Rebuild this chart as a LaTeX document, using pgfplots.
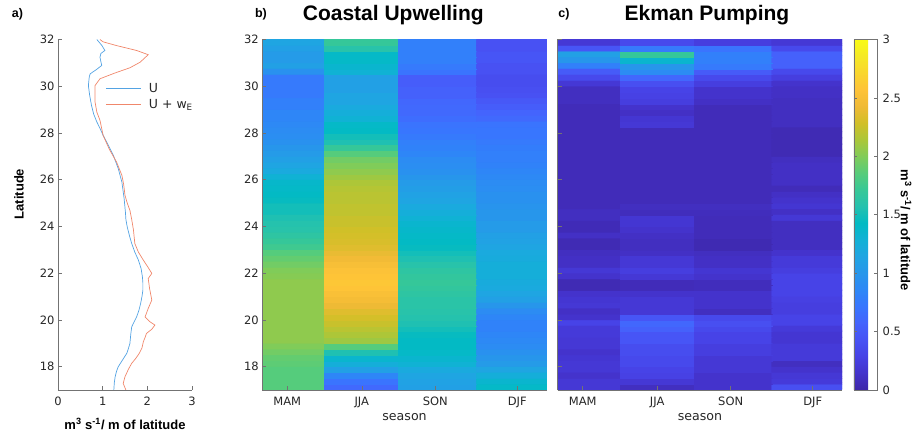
\documentclass[border=0pt]{standalone}
\usepackage{fontspec}
\setmainfont{DejaVu Sans}
\newfontfamily\helv{Liberation Sans}
\usepackage{pgfplots}
\pgfplotsset{compat=1.18}
\usepackage{pgfplotstable}

\pgfplotsset{colormap={parula}{
rgb=(0.2422,0.1504,0.6603) rgb=(0.2647,0.1978,0.7952) rgb=(0.2783,0.2559,0.8991)
rgb=(0.2810,0.3228,0.9579) rgb=(0.2699,0.3892,0.9906) rgb=(0.2206,0.4603,0.9973)
rgb=(0.1786,0.5289,0.9682) rgb=(0.1540,0.5902,0.9218) rgb=(0.1248,0.6459,0.8883)
rgb=(0.0689,0.6948,0.8394) rgb=(0.0067,0.7312,0.7660) rgb=(0.1408,0.7584,0.6842)
rgb=(0.2161,0.7843,0.5923) rgb=(0.3406,0.8008,0.4789) rgb=(0.5044,0.7993,0.3480)
rgb=(0.6720,0.7793,0.2227) rgb=(0.8203,0.7498,0.1535) rgb=(0.9393,0.7288,0.2100)
rgb=(0.9970,0.7659,0.2199) rgb=(0.9786,0.8386,0.1766) rgb=(0.9597,0.9135,0.1423)
rgb=(0.9769,0.9839,0.0805)}}

\definecolor{ublue}{rgb}{0.33,0.64,0.89}
\definecolor{uorange}{rgb}{0.94,0.53,0.42}

\newcommand{\tickfont}{\fontsize{11.5}{13}\selectfont}
\newcommand{\labfont}{\helv\bfseries\fontsize{13}{15}\selectfont}

% Coastal upwelling (x: season position, y: latitude, c: value)
\pgfplotstableread[row sep=\\]{
x y c\\
25 17.125 1.85\\ 99.5 17.125 0.62\\ 173 17.125 1.10\\ 255 17.125 1.40\\
25 17.375 1.85\\ 99.5 17.375 0.70\\ 173 17.375 1.12\\ 255 17.375 1.35\\
25 17.625 1.85\\ 99.5 17.625 0.85\\ 173 17.625 1.15\\ 255 17.625 1.25\\
25 17.875 1.85\\ 99.5 17.875 1.10\\ 173 17.875 1.20\\ 255 17.875 1.15\\
25 18.125 1.88\\ 99.5 18.125 1.25\\ 173 18.125 1.30\\ 255 18.125 1.05\\
25 18.375 1.90\\ 99.5 18.375 1.35\\ 173 18.375 1.35\\ 255 18.375 1.00\\
25 18.625 1.95\\ 99.5 18.625 1.55\\ 173 18.625 1.40\\ 255 18.625 0.95\\
25 18.875 2.00\\ 99.5 18.875 1.85\\ 173 18.875 1.42\\ 255 18.875 0.90\\
25 19.125 2.05\\ 99.5 19.125 2.10\\ 173 19.125 1.42\\ 255 19.125 0.88\\
25 19.375 2.05\\ 99.5 19.375 2.15\\ 173 19.375 1.45\\ 255 19.375 0.85\\
25 19.625 2.05\\ 99.5 19.625 2.20\\ 173 19.625 1.50\\ 255 19.625 0.82\\
25 19.875 2.05\\ 99.5 19.875 2.25\\ 173 19.875 1.55\\ 255 19.875 0.82\\
25 20.125 2.05\\ 99.5 20.125 2.30\\ 173 20.125 1.58\\ 255 20.125 0.85\\
25 20.375 2.05\\ 99.5 20.375 2.35\\ 173 20.375 1.60\\ 255 20.375 0.90\\
25 20.625 2.05\\ 99.5 20.625 2.42\\ 173 20.625 1.62\\ 255 20.625 1.00\\
25 20.875 2.05\\ 99.5 20.875 2.48\\ 173 20.875 1.62\\ 255 20.875 1.10\\
25 21.125 2.05\\ 99.5 21.125 2.52\\ 173 21.125 1.65\\ 255 21.125 1.15\\
25 21.375 2.05\\ 99.5 21.375 2.58\\ 173 21.375 1.68\\ 255 21.375 1.20\\
25 21.625 2.05\\ 99.5 21.625 2.60\\ 173 21.625 1.70\\ 255 21.625 1.22\\
25 21.875 2.02\\ 99.5 21.875 2.58\\ 173 21.875 1.68\\ 255 21.875 1.25\\
25 22.125 2.00\\ 99.5 22.125 2.55\\ 173 22.125 1.65\\ 255 22.125 1.25\\
25 22.375 1.95\\ 99.5 22.375 2.50\\ 173 22.375 1.60\\ 255 22.375 1.25\\
25 22.625 1.90\\ 99.5 22.625 2.45\\ 173 22.625 1.55\\ 255 22.625 1.22\\
25 22.875 1.85\\ 99.5 22.875 2.40\\ 173 22.875 1.50\\ 255 22.875 1.20\\
25 23.125 1.75\\ 99.5 23.125 2.35\\ 173 23.125 1.45\\ 255 23.125 1.15\\
25 23.375 1.70\\ 99.5 23.375 2.32\\ 173 23.375 1.42\\ 255 23.375 1.12\\
25 23.625 1.65\\ 99.5 23.625 2.30\\ 173 23.625 1.40\\ 255 23.625 1.10\\
25 23.875 1.60\\ 99.5 23.875 2.28\\ 173 23.875 1.38\\ 255 23.875 1.05\\
25 24.125 1.58\\ 99.5 24.125 2.25\\ 173 24.125 1.35\\ 255 24.125 1.05\\
25 24.375 1.55\\ 99.5 24.375 2.25\\ 173 24.375 1.30\\ 255 24.375 1.00\\
25 24.625 1.50\\ 99.5 24.625 2.22\\ 173 24.625 1.25\\ 255 24.625 1.00\\
25 24.875 1.50\\ 99.5 24.875 2.22\\ 173 24.875 1.20\\ 255 24.875 0.98\\
25 25.125 1.45\\ 99.5 25.125 2.20\\ 173 25.125 1.15\\ 255 25.125 0.95\\
25 25.375 1.42\\ 99.5 25.375 2.20\\ 173 25.375 1.12\\ 255 25.375 0.95\\
25 25.625 1.40\\ 99.5 25.625 2.18\\ 173 25.625 1.08\\ 255 25.625 0.92\\
25 25.875 1.38\\ 99.5 25.875 2.15\\ 173 25.875 1.05\\ 255 25.875 0.90\\
25 26.125 1.30\\ 99.5 26.125 2.10\\ 173 26.125 1.00\\ 255 26.125 0.88\\
25 26.375 1.20\\ 99.5 26.375 2.05\\ 173 26.375 0.95\\ 255 26.375 0.85\\
25 26.625 1.15\\ 99.5 26.625 2.00\\ 173 26.625 0.92\\ 255 26.625 0.82\\
25 26.875 1.10\\ 99.5 26.875 1.95\\ 173 26.875 0.90\\ 255 26.875 0.80\\
25 27.125 1.05\\ 99.5 27.125 1.85\\ 173 27.125 0.85\\ 255 27.125 0.80\\
25 27.375 1.00\\ 99.5 27.375 1.70\\ 173 27.375 0.82\\ 255 27.375 0.78\\
25 27.625 0.95\\ 99.5 27.625 1.55\\ 173 27.625 0.80\\ 255 27.625 0.75\\
25 27.875 0.92\\ 99.5 27.875 1.50\\ 173 27.875 0.75\\ 255 27.875 0.72\\
25 28.125 0.90\\ 99.5 28.125 1.42\\ 173 28.125 0.72\\ 255 28.125 0.72\\
25 28.375 0.88\\ 99.5 28.375 1.40\\ 173 28.375 0.70\\ 255 28.375 0.70\\
25 28.625 0.85\\ 99.5 28.625 1.30\\ 173 28.625 0.65\\ 255 28.625 0.62\\
25 28.875 0.85\\ 99.5 28.875 1.25\\ 173 28.875 0.62\\ 255 28.875 0.58\\
25 29.125 0.80\\ 99.5 29.125 1.20\\ 173 29.125 0.62\\ 255 29.125 0.52\\
25 29.375 0.80\\ 99.5 29.375 1.15\\ 173 29.375 0.60\\ 255 29.375 0.48\\
25 29.625 0.75\\ 99.5 29.625 1.15\\ 173 29.625 0.55\\ 255 29.625 0.42\\
25 29.875 0.75\\ 99.5 29.875 1.10\\ 173 29.875 0.55\\ 255 29.875 0.40\\
25 30.125 0.75\\ 99.5 30.125 1.10\\ 173 30.125 0.52\\ 255 30.125 0.38\\
25 30.375 0.75\\ 99.5 30.375 1.10\\ 173 30.375 0.52\\ 255 30.375 0.38\\
25 30.625 0.95\\ 99.5 30.625 1.30\\ 173 30.625 0.70\\ 255 30.625 0.42\\
25 30.875 1.10\\ 99.5 30.875 1.35\\ 173 30.875 0.75\\ 255 30.875 0.42\\
25 31.125 1.05\\ 99.5 31.125 1.40\\ 173 31.125 0.80\\ 255 31.125 0.45\\
25 31.375 1.05\\ 99.5 31.375 1.40\\ 173 31.375 0.80\\ 255 31.375 0.45\\
25 31.625 1.10\\ 99.5 31.625 1.60\\ 173 31.625 0.80\\ 255 31.625 0.42\\
25 31.875 1.15\\ 99.5 31.875 1.70\\ 173 31.875 0.80\\ 255 31.875 0.42\\
}\tabB

% Ekman pumping
\pgfplotstableread[row sep=\\]{
x y c\\
25 17.125 0.20\\ 99.5 17.125 0.10\\ 173 17.125 0.15\\ 255 17.125 0.40\\
25 17.375 0.20\\ 99.5 17.375 0.20\\ 173 17.375 0.15\\ 255 17.375 0.22\\
25 17.625 0.15\\ 99.5 17.625 0.28\\ 173 17.625 0.15\\ 255 17.625 0.20\\
25 17.875 0.20\\ 99.5 17.875 0.30\\ 173 17.875 0.20\\ 255 17.875 0.15\\
25 18.125 0.20\\ 99.5 18.125 0.35\\ 173 18.125 0.20\\ 255 18.125 0.10\\
25 18.375 0.18\\ 99.5 18.375 0.35\\ 173 18.375 0.20\\ 255 18.375 0.22\\
25 18.625 0.15\\ 99.5 18.625 0.38\\ 173 18.625 0.25\\ 255 18.625 0.22\\
25 18.875 0.20\\ 99.5 18.875 0.38\\ 173 18.875 0.25\\ 255 18.875 0.22\\
25 19.125 0.20\\ 99.5 19.125 0.45\\ 173 19.125 0.30\\ 255 19.125 0.18\\
25 19.375 0.22\\ 99.5 19.375 0.45\\ 173 19.375 0.30\\ 255 19.375 0.18\\
25 19.625 0.22\\ 99.5 19.625 0.55\\ 173 19.625 0.35\\ 255 19.625 0.22\\
25 19.875 0.30\\ 99.5 19.875 0.60\\ 173 19.875 0.40\\ 255 19.875 0.30\\
25 20.125 0.15\\ 99.5 20.125 0.45\\ 173 20.125 0.35\\ 255 20.125 0.30\\
25 20.375 0.12\\ 99.5 20.375 0.20\\ 173 20.375 0.10\\ 255 20.375 0.25\\
25 20.625 0.20\\ 99.5 20.625 0.20\\ 173 20.625 0.15\\ 255 20.625 0.25\\
25 20.875 0.18\\ 99.5 20.875 0.20\\ 173 20.875 0.15\\ 255 20.875 0.27\\
25 21.125 0.15\\ 99.5 21.125 0.15\\ 173 21.125 0.15\\ 255 21.125 0.30\\
25 21.375 0.05\\ 99.5 21.375 0.07\\ 173 21.375 0.08\\ 255 21.375 0.30\\
25 21.625 0.05\\ 99.5 21.625 0.07\\ 173 21.625 0.08\\ 255 21.625 0.30\\
25 21.875 0.15\\ 99.5 21.875 0.20\\ 173 21.875 0.15\\ 255 21.875 0.30\\
25 22.125 0.20\\ 99.5 22.125 0.25\\ 173 22.125 0.18\\ 255 22.125 0.25\\
25 22.375 0.12\\ 99.5 22.375 0.20\\ 173 22.375 0.12\\ 255 22.375 0.22\\
25 22.625 0.12\\ 99.5 22.625 0.20\\ 173 22.625 0.12\\ 255 22.625 0.22\\
25 22.875 0.10\\ 99.5 22.875 0.12\\ 173 22.875 0.10\\ 255 22.875 0.15\\
25 23.125 0.05\\ 99.5 23.125 0.10\\ 173 23.125 0.04\\ 255 23.125 0.10\\
25 23.375 0.05\\ 99.5 23.375 0.10\\ 173 23.375 0.04\\ 255 23.375 0.10\\
25 23.625 0.12\\ 99.5 23.625 0.12\\ 173 23.625 0.07\\ 255 23.625 0.10\\
25 23.875 0.06\\ 99.5 23.875 0.15\\ 173 23.875 0.07\\ 255 23.875 0.10\\
25 24.125 0.06\\ 99.5 24.125 0.18\\ 173 24.125 0.07\\ 255 24.125 0.10\\
25 24.375 0.10\\ 99.5 24.375 0.18\\ 173 24.375 0.07\\ 255 24.375 0.20\\
25 24.625 0.10\\ 99.5 24.625 0.08\\ 173 24.625 0.08\\ 255 24.625 0.12\\
25 24.875 0.07\\ 99.5 24.875 0.10\\ 173 24.875 0.10\\ 255 24.875 0.18\\
25 25.125 0.07\\ 99.5 25.125 0.07\\ 173 25.125 0.07\\ 255 25.125 0.15\\
25 25.375 0.07\\ 99.5 25.375 0.07\\ 173 25.375 0.07\\ 255 25.375 0.12\\
25 25.625 0.07\\ 99.5 25.625 0.07\\ 173 25.625 0.07\\ 255 25.625 0.07\\
25 25.875 0.07\\ 99.5 25.875 0.07\\ 173 25.875 0.07\\ 255 25.875 0.12\\
25 26.125 0.07\\ 99.5 26.125 0.07\\ 173 26.125 0.07\\ 255 26.125 0.12\\
25 26.375 0.07\\ 99.5 26.375 0.07\\ 173 26.375 0.07\\ 255 26.375 0.12\\
25 26.625 0.07\\ 99.5 26.625 0.07\\ 173 26.625 0.07\\ 255 26.625 0.12\\
25 26.875 0.07\\ 99.5 26.875 0.07\\ 173 26.875 0.07\\ 255 26.875 0.10\\
25 27.125 0.07\\ 99.5 27.125 0.07\\ 173 27.125 0.07\\ 255 27.125 0.05\\
25 27.375 0.07\\ 99.5 27.375 0.07\\ 173 27.375 0.07\\ 255 27.375 0.05\\
25 27.625 0.07\\ 99.5 27.625 0.07\\ 173 27.625 0.07\\ 255 27.625 0.05\\
25 27.875 0.07\\ 99.5 27.875 0.07\\ 173 27.875 0.07\\ 255 27.875 0.05\\
25 28.125 0.07\\ 99.5 28.125 0.07\\ 173 28.125 0.07\\ 255 28.125 0.05\\
25 28.375 0.07\\ 99.5 28.375 0.20\\ 173 28.375 0.07\\ 255 28.375 0.10\\
25 28.625 0.07\\ 99.5 28.625 0.18\\ 173 28.625 0.07\\ 255 28.625 0.10\\
25 28.875 0.07\\ 99.5 28.875 0.12\\ 173 28.875 0.07\\ 255 28.875 0.10\\
25 29.125 0.07\\ 99.5 29.125 0.15\\ 173 29.125 0.07\\ 255 29.125 0.10\\
25 29.375 0.10\\ 99.5 29.375 0.25\\ 173 29.375 0.12\\ 255 29.375 0.10\\
25 29.625 0.10\\ 99.5 29.625 0.28\\ 173 29.625 0.15\\ 255 29.625 0.12\\
25 29.875 0.10\\ 99.5 29.875 0.30\\ 173 29.875 0.15\\ 255 29.875 0.12\\
25 30.125 0.20\\ 99.5 30.125 0.40\\ 173 30.125 0.25\\ 255 30.125 0.15\\
25 30.375 0.35\\ 99.5 30.375 0.60\\ 173 30.375 0.35\\ 255 30.375 0.25\\
25 30.625 0.50\\ 99.5 30.625 0.90\\ 173 30.625 0.50\\ 255 30.625 0.35\\
25 30.875 0.80\\ 99.5 30.875 1.00\\ 173 30.875 0.75\\ 255 30.875 0.55\\
25 31.125 1.00\\ 99.5 31.125 1.35\\ 173 31.125 0.80\\ 255 31.125 0.55\\
25 31.375 1.10\\ 99.5 31.375 1.70\\ 173 31.375 0.80\\ 255 31.375 0.55\\
25 31.625 0.45\\ 99.5 31.625 0.75\\ 173 31.625 0.70\\ 255 31.625 0.35\\
25 31.875 0.20\\ 99.5 31.875 0.35\\ 173 31.875 0.25\\ 255 31.875 0.20\\
}\tabC

\pgfplotsset{
  base/.style={
    scale only axis, height=350.5pt,
    axis line style={draw=black!55, line width=0.6pt},
    tick style={draw=black!55, line width=0.6pt},
    tick align=inside, major tick length=4pt,
    tick label style={font=\tickfont, text=black!85},
    xticklabel style={yshift=-3.5pt},
    /pgf/number format/assume math mode=true,
    axis x line*=bottom, axis y line*=left,
    ymin=17, ymax=32, ytick={18,20,...,32},
  },
  heat/.style={
    base, width=284.5pt, xmin=0, xmax=284.5,
    xtick={25,99.5,173,255}, xticklabels={MAM,JJA,SON,DJF},
    colormap name=parula, point meta min=0, point meta max=3,
    axis on top, enlargelimits=false,
    xlabel={season},
    xlabel style={font=\fontsize{12.6}{14}\selectfont, text=black!85,
      at={(axis description cs:0.5,-0.077)}, anchor=center},
  },
  heatcells/.style={matrix plot*, mesh/cols=4, point meta=explicit},
}

\begin{document}
\begin{tikzpicture}
\path[use as bounding box] (0pt,0pt) rectangle (914pt,436pt);

% panel a
\begin{axis}[base, at={(58pt,46pt)}, anchor=south west, width=134pt,
  xmin=0, xmax=3, xtick={0,1,2,3},
  xlabel={m\textsuperscript{3} s\textsuperscript{-1}/ m of latitude},
  xlabel style={font=\labfont, at={(axis description cs:0.5,-0.097)}, anchor=center},
  ylabel={Latitude},
  ylabel style={font=\labfont, at={(axis description cs:-0.291,0.559)}, anchor=center},
  legend style={draw=none, fill=none, at={(axis cs:1.06,30.22)}, anchor=north west,
    font=\fontsize{12.5}{14}\selectfont, text=black!85, row sep=1.5pt, inner sep=0pt,
    /tikz/every odd column/.append style={column sep=6pt}},
  legend cell align=left,
  legend image code/.code={\draw[#1] (0pt,0pt) -- (34.7pt,0pt);},
]
\addplot[ublue, line width=0.7pt] coordinates {
(1.25,17.0) (1.26,17.3) (1.28,17.57) (1.31,17.8) (1.35,18.0) (1.45,18.3) (1.54,18.57)
(1.58,18.8) (1.61,18.99) (1.63,19.4) (1.65,19.7) (1.70,19.9) (1.76,20.13) (1.81,20.4)
(1.85,20.70) (1.88,21.0) (1.90,21.27) (1.90,21.6) (1.89,21.84) (1.86,22.2) (1.80,22.56)
(1.72,22.9) (1.65,23.27) (1.60,23.6) (1.55,23.98) (1.52,24.3) (1.51,24.6) (1.48,25.2)
(1.43,25.9) (1.35,26.47) (1.24,27.04) (1.12,27.5) (1.01,27.9) (0.94,28.2) (0.87,28.47)
(0.80,28.8) (0.75,29.18) (0.71,29.6) (0.68,30.03) (0.70,30.4) (0.72,30.53) (0.85,30.7)
(0.98,30.89) (0.96,31.05) (0.94,31.24) (0.96,31.4) (1.05,31.53) (0.98,31.75) (0.87,32.0)
};
\addlegendentry{U}
\addplot[uorange, line width=0.7pt] coordinates {
(1.52,17.0) (1.46,17.28) (1.50,17.57) (1.58,17.9) (1.65,18.14) (1.74,18.35) (1.82,18.57)
(1.88,18.8) (1.91,19.06) (1.95,19.25) (1.98,19.42) (2.10,19.6) (2.17,19.78) (2.06,19.92)
(1.95,20.13) (2.02,20.49) (2.10,20.85) (2.05,21.35) (2.02,21.77) (2.10,21.99) (2.00,22.3)
(1.91,22.56) (1.80,22.9) (1.72,23.27) (1.69,23.84) (1.65,24.3) (1.61,24.69) (1.55,25.0)
(1.50,25.33) (1.47,25.8) (1.43,26.19) (1.31,26.76) (1.15,27.3) (1.01,27.9) (0.94,28.54)
(0.87,28.89) (0.83,29.32) (0.83,30.03) (0.94,30.32) (1.28,30.57) (1.61,30.79) (1.84,31.03)
(2.02,31.35) (1.76,31.53) (1.31,31.74) (1.01,31.9) (0.94,32.0)
};
\addlegendentry{U + w\textsubscript{E}}
\end{axis}

% panel b (an underlay copy, offset by a hair, hides anti-aliasing seams)
\begin{axis}[heat, at={(262.3pt,46pt)}, anchor=south west]
\addplot[heatcells] table[x expr=\thisrow{x}+1.5, y expr=\thisrow{y}+0.06, meta=c] {\tabB};
\addplot[heatcells] table[x=x, y=y, meta=c] {\tabB};
\end{axis}

% panel c
\begin{axis}[heat, at={(557.7pt,46pt)}, anchor=south west, yticklabels={},
  colorbar, colorbar shift/.style={},
  colorbar style={at={(parent axis.north east)}, anchor=north west, xshift=11.7pt,
    width=23.3pt, ytick={0,0.5,...,3},
    yticklabel style={font=\tickfont, text=black!85, xshift=2pt},
    /pgf/number format/assume math mode=true,
    axis line style={draw=black!55, line width=0.6pt},
    tick style={draw=black!55, line width=0.6pt},
    major tick length=3pt, tick align=inside},
]
\addplot[heatcells] table[x expr=\thisrow{x}+1.5, y expr=\thisrow{y}+0.06, meta=c] {\tabC};
\addplot[heatcells] table[x=x, y=y, meta=c] {\tabC};
\end{axis}

% titles and panel letters
\node[font=\helv\bfseries\fontsize{12.5}{14}\selectfont, anchor=base] at (17.5pt,418pt) {a)};
\node[font=\helv\bfseries\fontsize{12.5}{14}\selectfont, anchor=base] at (261pt,418pt) {b)};
\node[font=\helv\bfseries\fontsize{12.5}{14}\selectfont, anchor=base] at (564pt,418pt) {c)};
\node[font=\helv\bfseries\fontsize{21}{24}\selectfont, anchor=base] at (393.3pt,415.3pt) {Coastal Upwelling};
\node[font=\helv\bfseries\fontsize{21}{24}\selectfont, anchor=base] at (707pt,415.3pt) {Ekman Pumping};
\node[font=\labfont, rotate=-90, anchor=center] at (906pt,206pt) {m\textsuperscript{3} s\textsuperscript{-1}/ m of latitude};
\end{tikzpicture}
\end{document}
